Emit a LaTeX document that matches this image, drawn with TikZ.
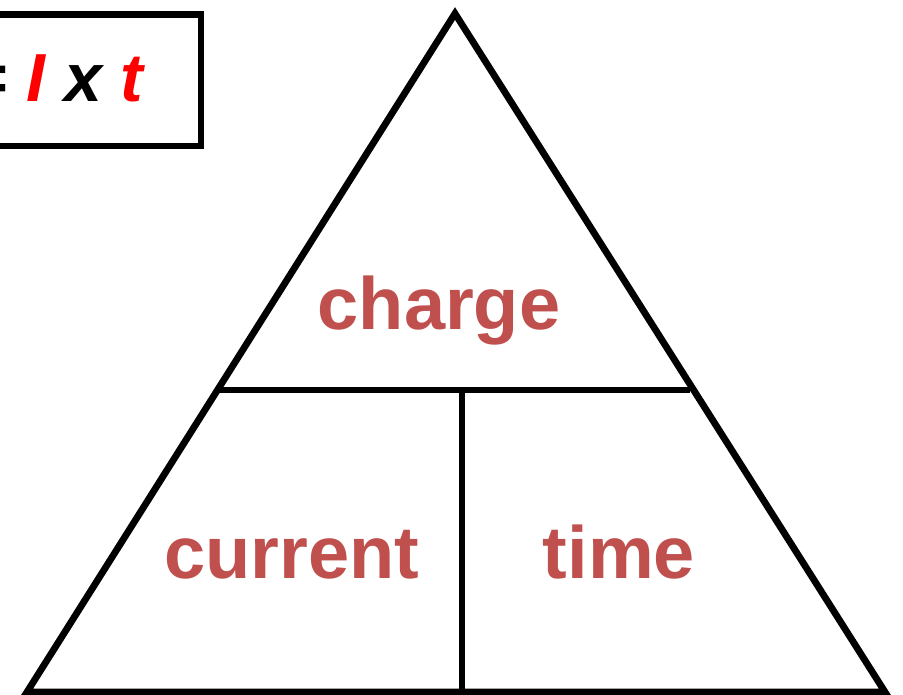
\documentclass[tikz,border=0pt]{standalone}
\usepackage{fontspec}
\setmainfont{Liberation Sans}
\usepackage{xcolor}
\usetikzlibrary{positioning,calc}
\definecolor{wordred}{HTML}{C0504D}
\begin{document}
\begin{tikzpicture}[x=1pt,y=-1pt,line width=6.8pt]
\tikzstyle{word}=[text=wordred,font=\fontsize{74}{80}\selectfont\bfseries,inner sep=0pt,anchor=base]
\useasboundingbox (0,0) rectangle (903,695);
\clip (0,0) rectangle (903,695);
% formula box, cut off at the left
\draw (-120,14.5) rectangle (201,146);
\node[font=\fontsize{68}{74}\selectfont\bfseries\itshape,inner sep=0pt,anchor=base west] (eq) at (-35.5,102) {= \textcolor{red}{I} x \textcolor{red}{t}};
% triangle
\coordinate (top) at (455,13.5);
\coordinate (bl) at (27,692);
\coordinate (br) at (885,692);
\draw[miter limit=10] (top) -- (bl) -- (br) -- cycle;
\coordinate (hl) at (220,390);
\coordinate (hr) at (690,390);
\coordinate (mid) at (462,390);
\coordinate (bot) at (462,692);
\draw (hl) -- (hr);
\draw (mid) -- (bot);
\node[word] (charge) at (439,330) {charge};
\node[word] (current) at (292,578) {current};
\node[word] (time) at (619,578) {time};
\end{tikzpicture}
\end{document}
